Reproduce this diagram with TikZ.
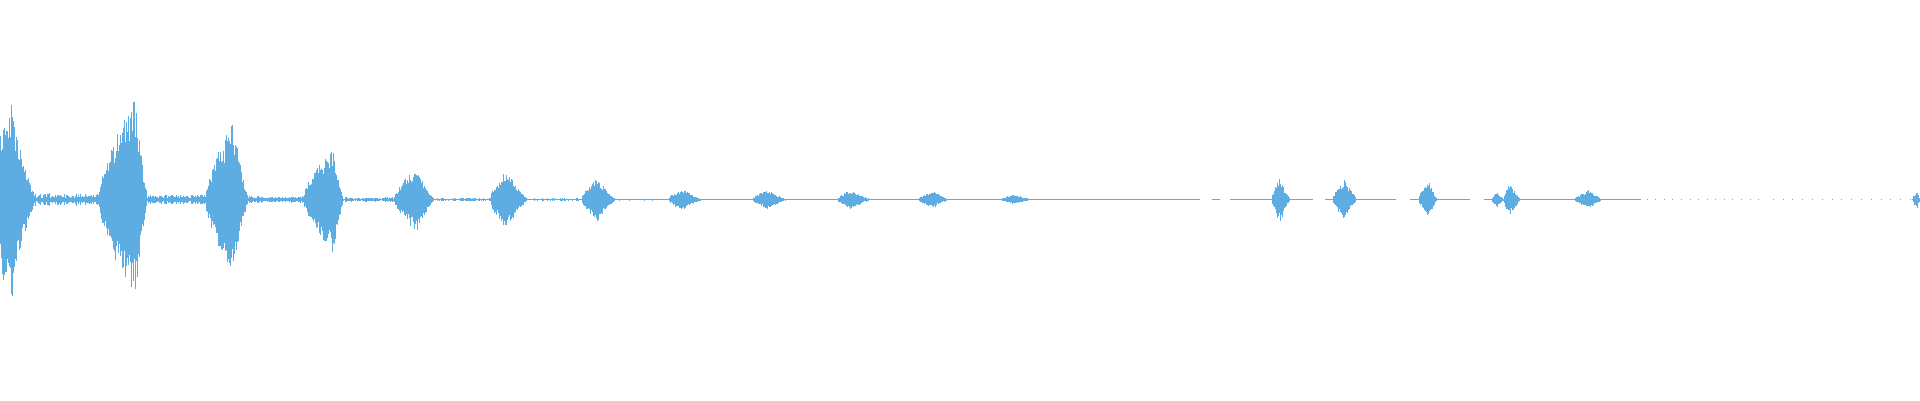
\documentclass[tikz,border=0pt]{standalone}
\usetikzlibrary{calc}
\definecolor{wavecol}{HTML}{5DADE2}
\newcommand\wburst[5]{% start end peak amp floor
  \foreach \xx in {#1,#1.8,...,#2}{%
    \pgfmathsetmacro\env{(\xx<#3) ? (#5+(#4-#5)*pow(max(0,(\xx-#1)/(#3-#1+0.01)),0.7)) : (#5+(#4-#5)*pow(max(0,1-(\xx-#3)/(#2-#3+0.01)),1.2))}
    \pgfmathsetmacro\up{\env*(0.6+0.4*rnd)}
    \pgfmathsetmacro\dn{\env*(0.6+0.4*rnd)}
    \draw[wave] (\xx,164+\up) -- (\xx,164-\dn);
  }}
\newcommand\wnoise[3]{%
  \foreach \xx in {#1,#1.8,...,#2}{%
    \pgfmathsetmacro\up{#3*(0.3+0.7*rnd)}
    \draw[wave] (\xx,164+\up) -- (\xx,164-\up);
  }}
\begin{document}
\begin{tikzpicture}[x=1pt,y=1pt,wave/.style={draw=wavecol,line width=0.45pt}]
\pgfmathsetseed{7}
\useasboundingbox (0,0) rectangle (1568,327);
\wburst{0}{12}{11}{88}{55}
\wburst{12}{28}{12}{60}{5}
\wnoise{28}{80}{5}
\wburst{80}{120}{110}{82}{4}
\wnoise{120}{168}{4}
\wburst{168}{202}{190}{64}{3}
\wnoise{202}{248}{3}
\wburst{248}{280}{272}{45}{2}
\wnoise{280}{325}{2}
\wburst{322}{354}{340}{27}{1.5}
\wnoise{354}{402}{1.2}
\wburst{400}{430}{414}{24}{1.2}
\wnoise{430}{477}{1}
\wburst{475}{502}{488}{18}{1}
\wnoise{502}{546}{0.8}
\wburst{546}{572}{557}{9}{0.8}
\wnoise{572}{614}{0.6}
\wburst{614}{642}{627}{8}{0.6}
\wnoise{642}{684}{0.6}
\wburst{684}{710}{695}{8}{0.6}
\wnoise{710}{750}{0.6}
\wburst{750}{774}{762}{7}{0.6}
\wnoise{774}{818}{0.5}
\wburst{818}{842}{828}{4}{0.6}
\wnoise{842}{980}{0.5}
\wnoise{990}{996}{0.5}
\wnoise{1005}{1038}{0.5}
\wburst{1038}{1054}{1045}{19}{0.5}
\wnoise{1054}{1072}{0.5}
\wnoise{1082}{1088}{0.5}
\wburst{1088}{1108}{1098}{17}{0.6}
\wnoise{1108}{1140}{0.5}
\wnoise{1152}{1158}{0.5}
\wburst{1158}{1174}{1167}{16}{0.5}
\wnoise{1174}{1200}{0.5}
\wnoise{1212}{1218}{0.5}
\wburst{1218}{1228}{1223}{6}{0.5}
\wburst{1228}{1242}{1233}{14}{0.5}
\wnoise{1242}{1286}{0.5}
\wburst{1286}{1308}{1298}{8}{0.5}
\wnoise{1308}{1340}{0.4}
\foreach \xx in {1345,1352,...,1440}{\draw[wave] (\xx,163.5)--(\xx,164.5);}
\foreach \xx in {1448,1456,...,1560}{\draw[wave] (\xx,163.5)--(\xx,164.5);}
\wburst{1562}{1568}{1566}{8}{0.5}
\end{tikzpicture}
\end{document}
